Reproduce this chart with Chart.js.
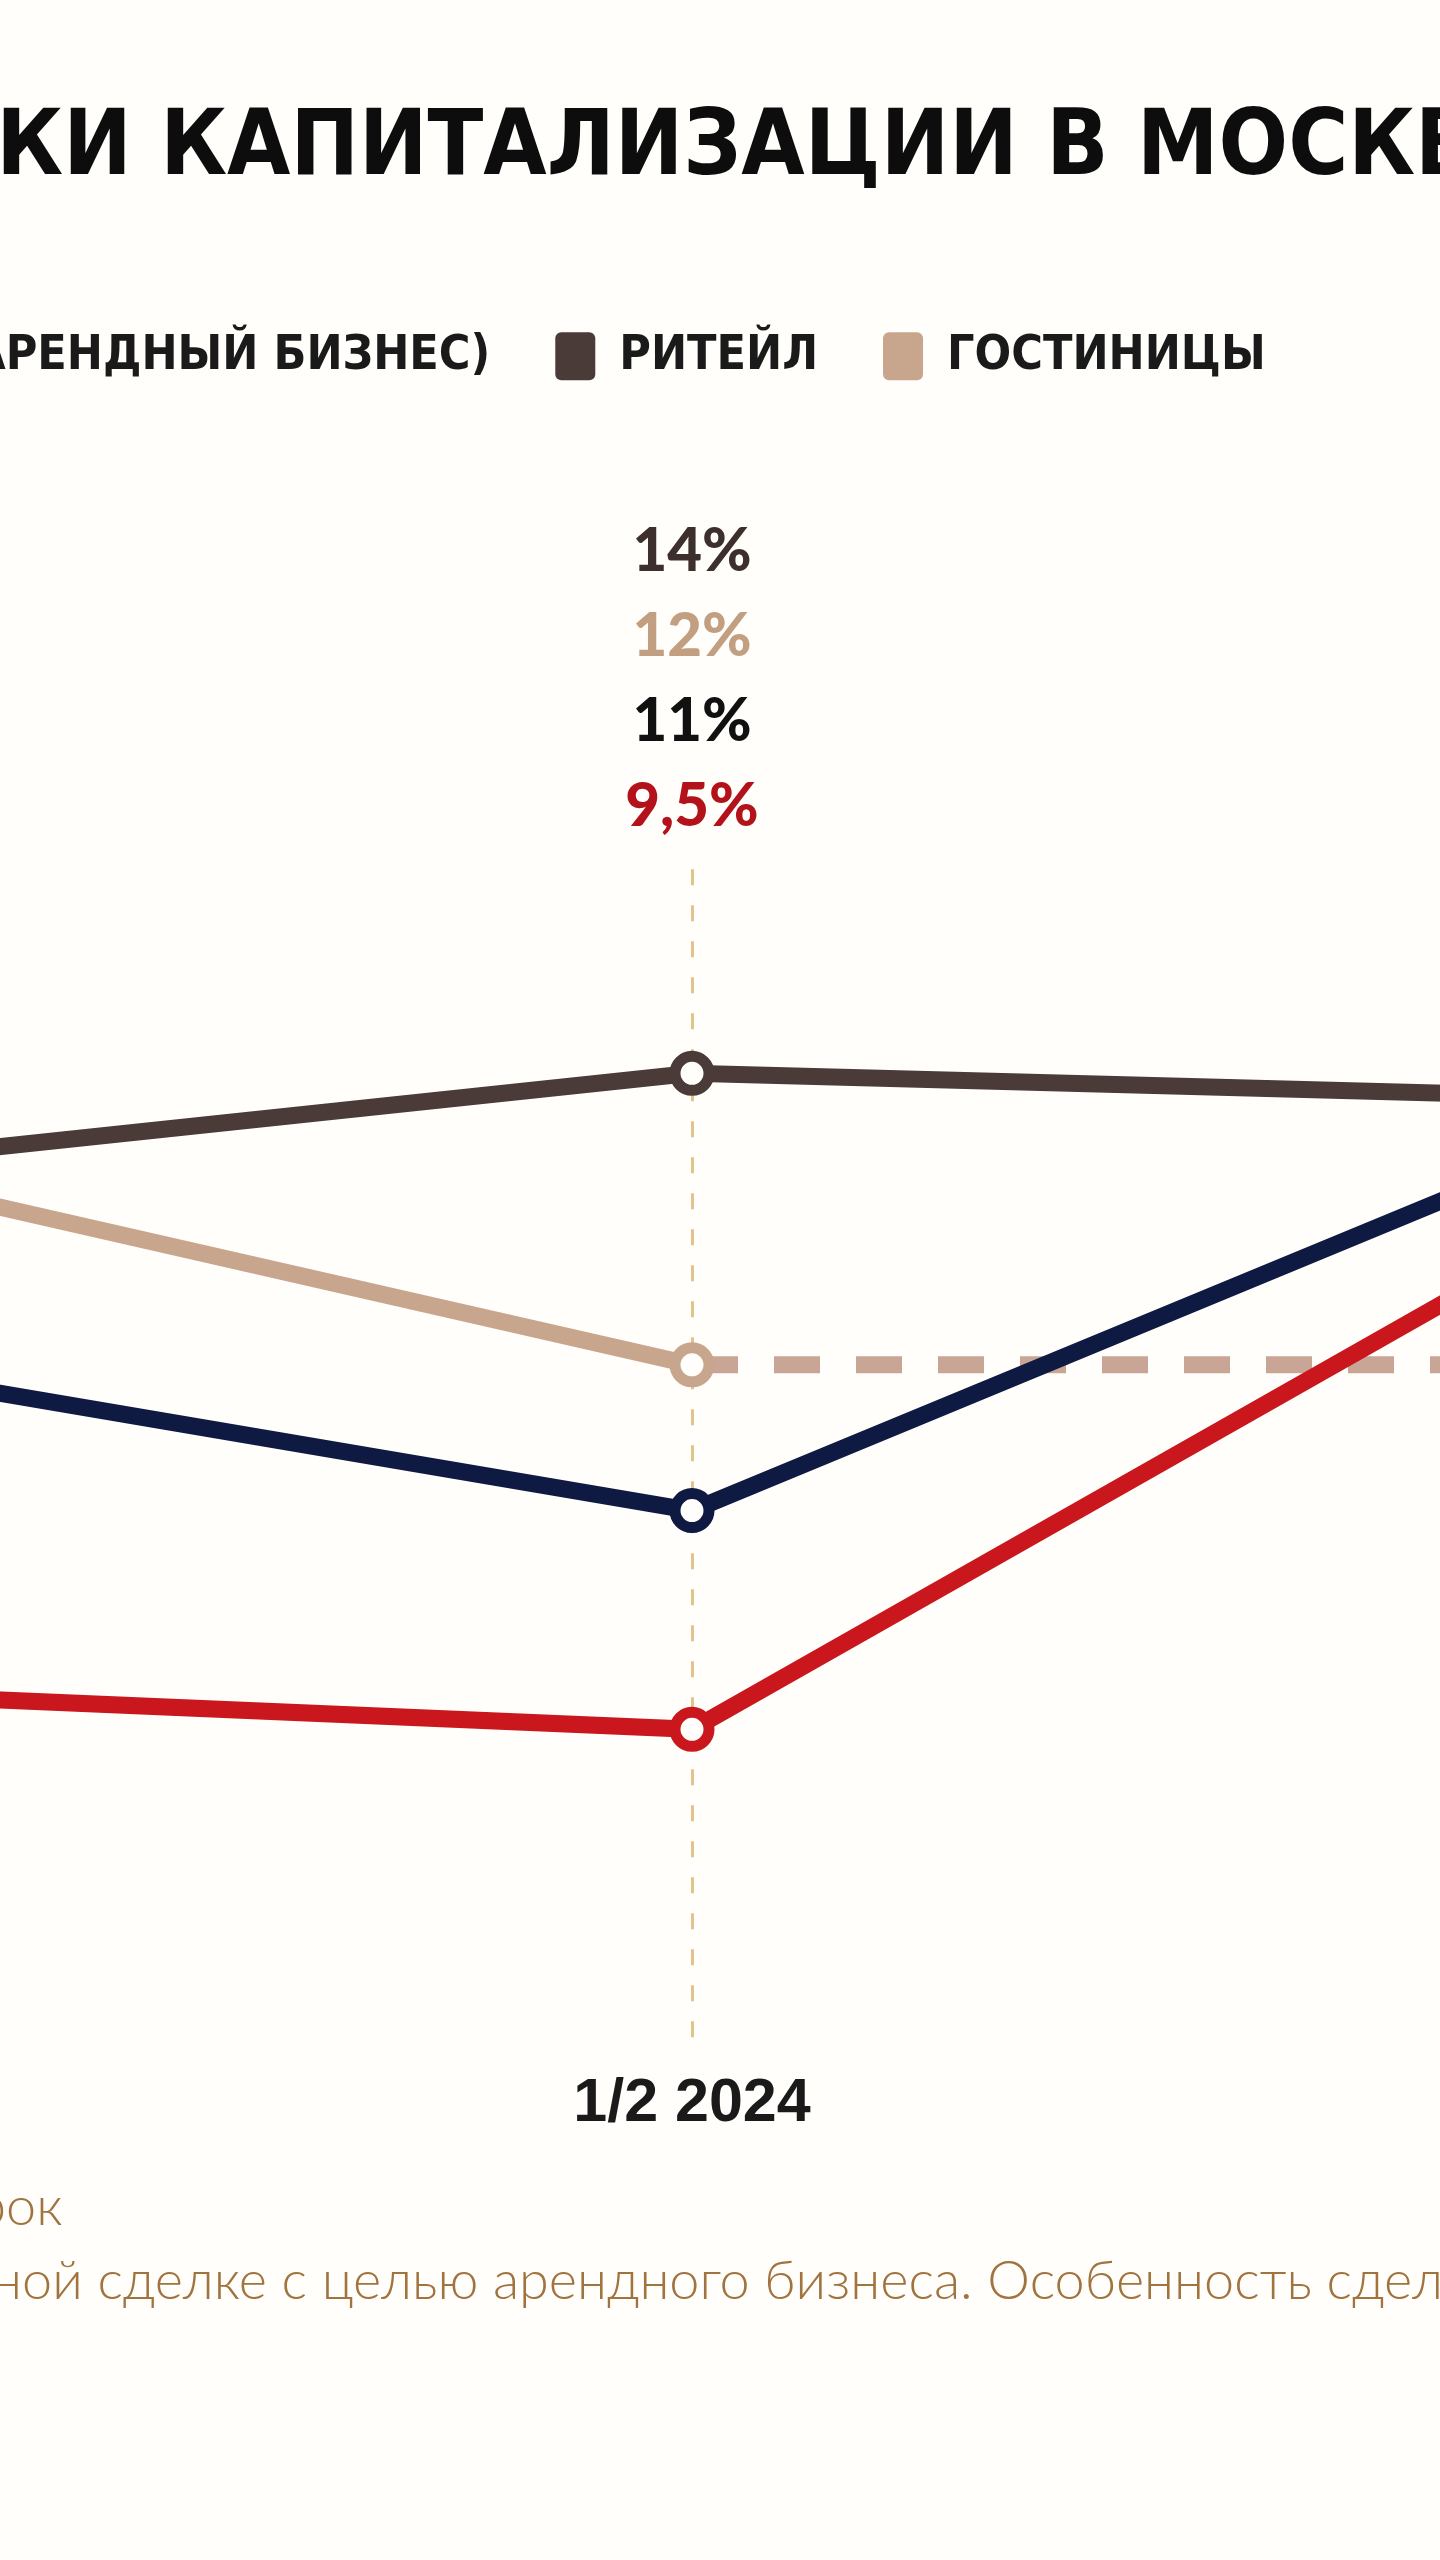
<!DOCTYPE html>
<html>
<head>
<meta charset="utf-8">
<script src="https://cdn.jsdelivr.net/npm/chart.js@4.4.1/dist/chart.umd.min.js"></script>
<style>
    html, body { margin: 0; padding: 0; background: #fffefb; }
    #wrap { position: relative; width: 1440px; height: 2560px; overflow: hidden; }
    #capChart { position: absolute; left: -797px; top: 0; }
    .note {
        position: absolute; left: 0; white-space: nowrap;
        font-family: Lato, "Noto Sans", sans-serif; font-weight: 300;
        font-size: 54px; line-height: 54px; color: #a0733f;
    }
    .note .pre { position: absolute; right: 100%; top: 0; }
</style>
</head>
<body>
<div id="wrap">
    <canvas id="capChart" width="2882" height="2200"></canvas>
    <div class="note" id="note1" style="top:2178px;left:6px;"><span class="pre">Источник: данные по сделкам и экспертная оценка, инвестиционный ср</span>ок</div>
    <div class="note" id="note2" style="top:2252px;left:-8px;"><span class="pre">** Жильё – ставка рассчитана по стандарт</span>ной сделке с целью арендного бизнеса. Особенность сделки – покупка готового объекта</div>
</div>
<script>
// periods (only the middle one falls inside the visible crop)
var periods = ["2/2 2023", "1/2 2024", "2/2 2024"];
var midIndex = 1;

// cap rates, %
var officeRates = [12.6, 11, 14.9];
var housingRates = [9.9, 9.5, 14.85];
var retailRates = [13, 14, 13.75];
var hotelRates = [14.15, 12, 12];

var seriesNames = ["ОФИСЫ А/В", "ЖИЛЬЁ (АРЕНДНЫЙ БИЗНЕС)", "РИТЕЙЛ", "ГОСТИНИЦЫ"];

var bg = "#fffefb";
var condensed = "'Liberation Sans Narrow', 'DejaVu Sans Condensed', sans-serif";

function fmt(v) {
    return String(v).replace(".", ",") + "%";
}

function makeSet(label, data, color, textColor) {
    return {
        label: label,
        data: data,
        borderColor: color,
        backgroundColor: color,
        borderWidth: 17,
        pointRadius: 17,
        pointBorderWidth: 11,
        pointBackgroundColor: bg,
        pointBorderColor: color,
        pointHoverRadius: 17,
        tension: 0,
        labelColor: textColor,
    };
}

var hotelSet = makeSet(seriesNames[3], hotelRates, "#c8a68e", "#c19f80");
hotelSet.segment = {
    borderDash: function (ctx) {
        return ctx.p0DataIndex >= midIndex ? [46, 36] : undefined;
    },
    borderColor: function (ctx) {
        return ctx.p0DataIndex >= midIndex ? "#c9a595" : undefined;
    },
};

// stacked value labels above the middle period
const valueLabels = {
    id: "valueLabels",
    afterDatasetsDraw(chart) {
        const { ctx, chartArea, scales } = chart;
        const px = scales.x.getPixelForValue(midIndex);
        const items = chart.data.datasets
            .map(function (d) { return { v: d.data[midIndex], c: d.labelColor }; })
            .sort(function (a, b) { return b.v - a.v; });
        ctx.save();
        ctx.font = "900 60px Lato, sans-serif";
        ctx.textAlign = "center";
        ctx.textBaseline = "middle";
        items.forEach(function (it, i) {
            ctx.fillStyle = it.c;
            ctx.fillText(fmt(it.v), px, chartArea.top - 63 - (items.length - 1 - i) * 85);
        });
        ctx.restore();
    },
};

// room between legend and plot
const legendSpace = {
    id: "legendSpace",
    beforeInit(chart) {
        const fit = chart.legend.fit;
        chart.legend.fit = function () {
            fit.bind(chart.legend)();
            this.height = 870 - 268;
        };
    },
};

var ctx = document.getElementById("capChart");
var capChart = new Chart(ctx, {
    type: "line",
    data: {
        labels: periods,
        datasets: [
            makeSet(seriesNames[0], officeRates, "#0e1a42", "#111111"),
            makeSet(seriesNames[1], housingRates, "#c9171d", "#b3121a"),
            makeSet(seriesNames[2], retailRates, "#4a3b39", "#3d2f2b"),
            hotelSet,
        ],
    },
    options: {
        responsive: false,
        animation: false,
        layout: { autoPadding: false, padding: { top: 0, bottom: 40, left: 0, right: 0 } },
        scales: {
            x: {
                offset: false,
                grid: { color: "#e3c38c", lineWidth: 3, drawTicks: false },
                border: { display: false, dash: [16, 20] },
                ticks: {
                    align: "inner",
                    color: "#1a1a1a",
                    padding: 18,
                    font: { family: "'Liberation Sans', Arial, sans-serif", size: 61, weight: "bold" },
                },
                afterFit: function (s) { s.height = 110; },
            },
            y: {
                min: 7.3,
                max: 15.4,
                grid: { display: false },
                border: { display: false },
                ticks: { display: false },
                afterFit: function (s) { s.width = 114; },
            },
        },
        plugins: {
            title: {
                display: true,
                text: "СТАВКИ КАПИТАЛИЗАЦИИ В МОСКВЕ",
                color: "#0d0d0d",
                font: { family: condensed, size: 91, weight: "bold", lineHeight: 1.2 },
                padding: { top: 96, bottom: 62 },
            },
            legend: {
                position: "top",
                align: "start",
                labels: {
                    color: "#1a1a1a",
                    boxWidth: 40,
                    boxHeight: 48,
                    useBorderRadius: true,
                    borderRadius: 6,
                    padding: 65,
                    font: { family: condensed, size: 48, weight: "bold" },
                    generateLabels: function (chart) {
                        return Chart.defaults.plugins.legend.labels.generateLabels(chart).map(function (it) {
                            it.fillStyle = it.strokeStyle;
                            it.lineWidth = 0;
                            it.lineDash = [];
                            return it;
                        });
                    },
                },
            },
            tooltip: { enabled: false },
        },
    },
    plugins: [valueLabels, legendSpace],
});
</script>
</body>
</html>
